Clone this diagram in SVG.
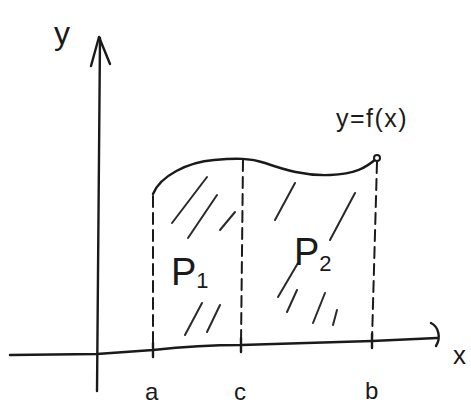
<svg xmlns="http://www.w3.org/2000/svg" width="471" height="408" viewBox="0 0 471 408">
<style>
.ln{fill:none;stroke:#1a1a1a;stroke-width:2.4;stroke-linecap:round;stroke-linejoin:round}
.ds{fill:none;stroke:#1a1a1a;stroke-width:2;stroke-dasharray:11 6;stroke-linecap:round}
.ht{fill:none;stroke:#2a2a2a;stroke-width:2;stroke-linecap:round}
.tx{font-family:"Liberation Sans","DejaVu Sans",sans-serif;fill:#1a1a1a}
</style>
<rect width="471" height="408" fill="#ffffff"/>
<g id="axes">
<path class="ln" d="M97,391 L100,38"/>
<path class="ln" d="M91,66 L99,37 L110,64"/>
<path class="ln" d="M10,355 L97,354 L153,350 C190,346 220,345 241,345 L372,341 L437,338"/>
<path class="ln" d="M431,323 C439,327 441,338 436,346"/>
<path class="ln" d="M153,343 L153,357 M241,338 L241,352 M372,334 L372,348"/>
</g>
<g id="curve">
<path class="ln" d="M153,194 C160,176 188,162 214,160 C236,158 250,158 265,163 C285,170 305,176 330,175 C355,174 366,168 377,158"/>
<circle cx="377" cy="158" r="3" fill="#fff" stroke="#1a1a1a" stroke-width="2"/>
</g>
<g id="dashes">
<path class="ds" d="M153,196 L153,348"/>
<path class="ds" d="M243,160 L241,344"/>
<path class="ds" d="M377,162 L372,340"/>
</g>
<g id="hatching">
<path class="ht" d="M172,223 L207,177 M188,238 L217,195 M220,230 L235,212 M185,335 L202,303 M207,332 L220,305 M275,220 L295,183 M330,240 L355,193 M278,297 L298,263 M287,312 L297,290 M313,323 L325,293 M333,325 L337,310"/>
</g>
<g id="labels">
<text class="tx" x="54" y="44" font-size="32">y</text>
<text class="tx" x="453" y="364" font-size="26">x</text>
<text class="tx" x="145" y="400" font-size="24">a</text>
<text class="tx" x="234" y="400" font-size="24">c</text>
<text class="tx" x="365" y="399" font-size="24">b</text>
<text class="tx" x="336" y="127" font-size="25" letter-spacing="1.5">y=f(x)</text>
<text class="tx" x="171" y="285" font-size="38">P<tspan font-size="22" dy="3">1</tspan></text>
<text class="tx" x="294" y="265" font-size="38">P<tspan font-size="22" dy="6">2</tspan></text>
</g>
</svg>
